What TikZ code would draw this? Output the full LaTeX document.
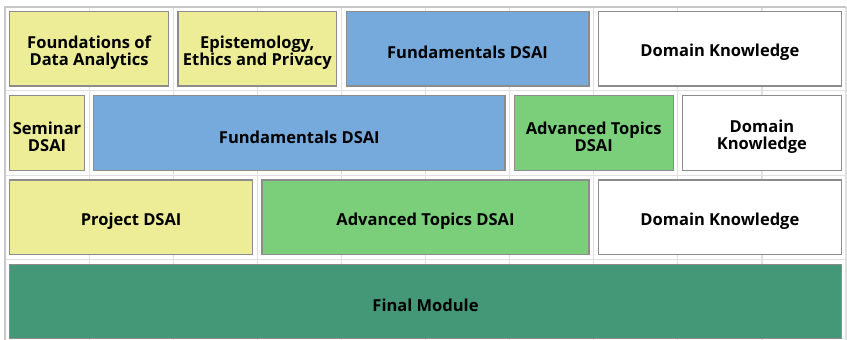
\documentclass[tikz,border=0pt]{standalone}
\usepackage{fontspec}
\setmainfont{Open Sans}
\usetikzlibrary{positioning}
\definecolor{basic}{RGB}{237,237,152}
\definecolor{core}{RGB}{118,169,220}
\definecolor{advanced}{RGB}{123,207,123}
\definecolor{final}{RGB}{68,152,119}
\definecolor{frame}{RGB}{140,140,140}
\tikzstyle{grid line}=[draw=black!12,line width=1.2pt]
\tikzstyle{outer line}=[draw=black!22,line width=2pt]
\tikzstyle{module}=[rectangle,draw=frame,line width=1.2pt,inner sep=0pt,minimum height=74.5pt]
\tikzstyle{module text}=[font=\bfseries\fontsize{16.5}{17.5}\selectfont,align=center,inner sep=0pt,yshift=-4pt]

\begin{document}
\begin{tikzpicture}[x=84.1pt,y=-84.3pt]
\useasboundingbox (-5pt,6.5pt) rectangle (842pt,-333.5pt);

% The grid of semesters in the background
\foreach \i in {0,...,10}
\draw[grid line] (\i,0) -- (\i,4);
\foreach \j in {1,...,3}
\draw[grid line] (0,\j) -- (10,\j);
\draw[outer line] (0,4) -- (0,0) -- (10,0);

% Then the modules, row by row
\foreach \rw/\cl/\w/\kind/\name/\txt in {1/0/2/basic/found/{Foundations of\\Data Analytics},
1/2/2/basic/ethics/{Epistemology,\\Ethics and Privacy},
1/4/3/core/fundA/Fundamentals DSAI,
1/7/3/white/domA/Domain Knowledge,
2/0/1/basic/sem/{Seminar\\DSAI},
2/1/5/core/fundB/Fundamentals DSAI,
2/6/2/advanced/advA/{Advanced Topics\\DSAI},
2/8/2/white/domB/{Domain\\Knowledge},
3/0/3/basic/proj/Project DSAI,
3/3/4/advanced/advB/Advanced Topics DSAI,
3/7/3/white/domC/Domain Knowledge,
4/0/10/final/fin/Final Module}
\node[module,fill=\kind,minimum width={\w*84.1pt-9.4pt},label={[module text]center:\txt}] (\name) at ({\cl+\w/2},{\rw-0.5}) {};

\end{tikzpicture}
\end{document}
